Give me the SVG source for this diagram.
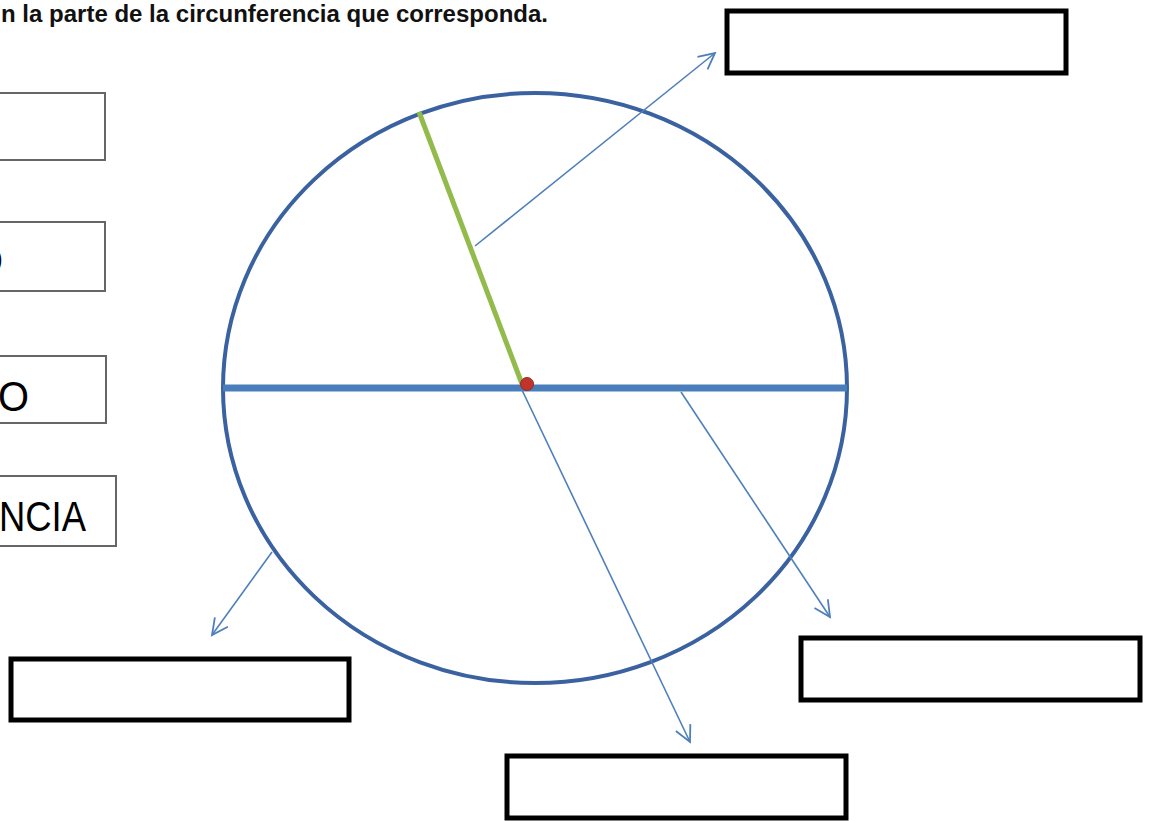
<svg xmlns="http://www.w3.org/2000/svg" width="1152" height="821" viewBox="0 0 1152 821">
<style>
.lbox{fill:#fff;stroke:#666;stroke-width:2}
.abox{fill:#fff;stroke:#000;stroke-width:5}
.conn{stroke:#4f7fbb;stroke-width:1.6;fill:none;marker-end:url(#vh)}
.lbl{font-family:"Liberation Sans",Arial,sans-serif;font-size:42px;fill:#000}
</style>
<defs>
<marker id="vh" viewBox="0 0 22 22" refX="20" refY="11" markerWidth="22" markerHeight="22" markerUnits="userSpaceOnUse" orient="auto">
<path d="M4,3 L20,11 L4,19" fill="none" stroke="#4f7fbb" stroke-width="1.8"/>
</marker>
</defs>
<rect width="1152" height="821" fill="#fff"/>
<text x="1" y="22" font-family="Liberation Sans,Arial,sans-serif" font-weight="bold" font-size="23" textLength="547" lengthAdjust="spacingAndGlyphs" fill="#111">n la parte de la circunferencia que corresponda.</text>

<g id="label1"><rect class="lbox" x="-10" y="93" width="115" height="67"/></g>
<g id="label2"><rect class="lbox" x="-10" y="222" width="115" height="69"/>
<text class="lbl" x="-27" y="275" textLength="30" lengthAdjust="spacingAndGlyphs">O</text></g>
<g id="label3"><rect class="lbox" x="-10" y="356" width="116" height="67"/>
<text class="lbl" x="-2" y="411" textLength="31" lengthAdjust="spacingAndGlyphs">O</text></g>
<g id="label4"><rect class="lbox" x="-10" y="476" width="126" height="70"/>
<text class="lbl" x="-1" y="531" textLength="87" lengthAdjust="spacingAndGlyphs">NCIA</text></g>

<g id="circle">
<ellipse cx="535" cy="388" rx="312" ry="295" fill="none" stroke="#3b62a0" stroke-width="4"/>
<line x1="223" y1="388" x2="847" y2="388" stroke="#4a7ebb" stroke-width="7"/>
<line x1="419" y1="112" x2="522" y2="384" stroke="#92bb4c" stroke-width="5"/>
<circle cx="527" cy="384" r="6.5" fill="#c0342b" stroke="#9a2a22" stroke-width="1"/>
</g>

<g id="connectors">
<line class="conn" x1="475" y1="246" x2="715" y2="53"/>
<line class="conn" x1="272" y1="552" x2="212" y2="635"/>
<line class="conn" x1="522" y1="390" x2="690" y2="742"/>
<line class="conn" x1="681" y1="392" x2="830" y2="617"/>
</g>

<g id="box-top-right"><rect class="abox" x="727" y="11" width="339" height="62"/></g>
<g id="box-bottom-left"><rect class="abox" x="11" y="659" width="338" height="61"/></g>
<g id="box-bottom-right"><rect class="abox" x="801" y="638" width="339" height="62"/></g>
<g id="box-bottom-center"><rect class="abox" x="507" y="756" width="339" height="62"/></g>
</svg>
